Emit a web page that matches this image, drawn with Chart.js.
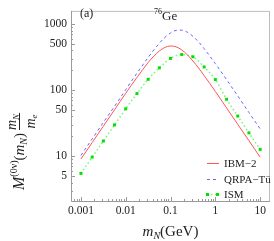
<!DOCTYPE html>
<html>
<head>
<meta charset="utf-8">
<script src="https://cdn.jsdelivr.net/npm/chart.js@4.4.0/dist/chart.umd.min.js"></script>
<style>
html, body { margin: 0; padding: 0; background: #fff; }
#c { display: block; }
</style>
</head>
<body>
<canvas id="c" width="274" height="241"></canvas>
<script>
// 곡선 데이터
var ibmMass = [0.001, 0.00178, 0.00316, 0.00562, 0.01, 0.0178, 0.0316, 0.0422, 0.0562, 0.075, 0.1, 0.133, 0.178, 0.237, 0.316, 0.422, 0.562, 1, 1.78, 3.16, 5.62, 10];
var ibmValue = [9.1, 16.1, 28.5, 50.5, 90, 156, 262, 328, 393, 445, 468, 454, 407, 344, 277, 217, 167, 96, 54, 30.5, 17.2, 9.7];

var qrpaMass = [0.001, 0.00178, 0.00316, 0.00562, 0.01, 0.0178, 0.0316, 0.0422, 0.0562, 0.075, 0.1, 0.133, 0.178, 0.237, 0.316, 0.422, 0.562, 1, 1.78, 3.16, 5.62, 10];
var qrpaValue = [10.3, 18.3, 32.5, 57, 102, 181, 313, 406, 514, 632, 737, 805, 813, 756, 655, 539, 427, 253, 145, 82, 46, 26];

var ismMass = [0.001, 0.00178, 0.00316, 0.00562, 0.01, 0.0178, 0.0316, 0.0562, 0.1, 0.178, 0.316, 0.562, 1, 1.78, 3.16, 5.62, 10];
var ismValue = [5.5, 9.7, 17.0, 29.8, 52.4, 89, 146, 218, 303, 347, 321, 225, 145, 73, 40.6, 22.6, 12.7];

var xTicks = [0.001, 0.01, 0.1, 1, 10];
var yTicks = [5, 10, 50, 100, 500, 1000];

var serif = '"Liberation Serif", "DejaVu Serif", serif';
Chart.defaults.font.family = serif;

function toPoints(xs, ys) {
	var out = [];
	for (var i = 0; i < xs.length; i++) {
		out.push({ x : xs[i], y : ys[i] });
	}
	return out;
}

// 축 눈금, 테두리, 라벨, 범례 그리기
var decorPlugin = {
	id : 'decor',
	afterDraw : function(chart) {
		var ctx = chart.ctx;
		var a = chart.chartArea;
		var xs = chart.scales.x, ys = chart.scales.y;
		ctx.save();

		// 테두리
		ctx.strokeStyle = '#bdbdbd';
		ctx.lineWidth = 1;
		ctx.beginPath();
		ctx.moveTo(a.left, a.top + 0.5);
		ctx.lineTo(a.right - 0.5, a.top + 0.5);
		ctx.lineTo(a.right - 0.5, a.bottom);
		ctx.stroke();

		ctx.strokeStyle = '#9a9a9a';
		ctx.beginPath();
		ctx.moveTo(a.left + 0.5, a.top);
		ctx.lineTo(a.left + 0.5, a.bottom + 0.5);
		ctx.lineTo(a.right, a.bottom + 0.5);
		ctx.stroke();

		// 눈금
		ctx.beginPath();
		for (var e = -4; e <= 1; e++) {
			for (var k = 1; k <= 9; k++) {
				var v = k * Math.pow(10, e);
				if (v < xs.min || v > xs.max) continue;
				var px = Math.round(xs.getPixelForValue(v)) + 0.5;
				var len = (k === 1) ? 4 : 2;
				ctx.moveTo(px, a.bottom);
				ctx.lineTo(px, a.bottom - len);
			}
		}
		for (var e2 = 0; e2 <= 3; e2++) {
			for (var k2 = 1; k2 <= 9; k2++) {
				var v2 = k2 * Math.pow(10, e2);
				if (v2 < ys.min || v2 > ys.max) continue;
				var py = Math.round(ys.getPixelForValue(v2)) + 0.5;
				var len2 = (k2 === 1 || k2 === 5) ? 4 : 2;
				ctx.moveTo(a.left, py);
				ctx.lineTo(a.left + len2, py);
			}
		}
		ctx.stroke();

		ctx.fillStyle = '#222';
		ctx.textBaseline = 'alphabetic';

		// (a)
		ctx.font = '12px ' + serif;
		ctx.textAlign = 'left';
		ctx.fillText('(a)', 80, 17);

		// 76Ge
		ctx.font = '8px ' + serif;
		ctx.fillText('76', 154, 14);
		ctx.font = '13px ' + serif;
		ctx.fillText('Ge', 162, 20);

		// x축 라벨
		var cx = (a.left + a.right) / 2;
		ctx.font = 'italic 15px ' + serif;
		var wm = ctx.measureText('m').width;
		ctx.font = 'italic 10px ' + serif;
		var wn = ctx.measureText('N').width;
		ctx.font = '15px ' + serif;
		var wg = ctx.measureText('(GeV)').width;
		var x0 = cx - (wm + wn + wg) / 2;
		var by = 236;
		ctx.font = 'italic 15px ' + serif;
		ctx.fillText('m', x0, by);
		ctx.font = 'italic 10px ' + serif;
		ctx.fillText('N', x0 + wm, by + 3);
		ctx.font = '15px ' + serif;
		ctx.fillText('(GeV)', x0 + wm + wn, by);

		// y축 라벨 (회전)
		ctx.save();
		ctx.translate(24, 122);
		ctx.rotate(-Math.PI / 2);
		var parts = [
			[ 'italic 16px ', 'M', 0 ],
			[ '10px ', '(0\u03bd)', -7 ],
			[ '15px ', '(', 0 ],
			[ 'italic 15px ', 'm', 0 ],
			[ 'italic 10px ', 'N', 3 ],
			[ '15px ', ')', 0 ]
		];
		var tx = -68;
		for (var i = 0; i < parts.length; i++) {
			ctx.font = parts[i][0] + serif;
			ctx.fillText(parts[i][1], tx, parts[i][2]);
			tx += ctx.measureText(parts[i][1]).width;
		}
		tx += 3;
		// 분수
		ctx.font = 'italic 14px ' + serif;
		var fm = ctx.measureText('m').width;
		ctx.font = 'italic 9px ' + serif;
		var fn = ctx.measureText('N').width;
		var fe = ctx.measureText('e').width;
		var fw = fm + fn + 1;
		ctx.font = 'italic 14px ' + serif;
		ctx.fillText('m', tx, -8);
		ctx.fillText('m', tx + (fw - fm - fe) / 2, 11);
		ctx.font = 'italic 9px ' + serif;
		ctx.fillText('N', tx + fm, -5);
		ctx.fillText('e', tx + (fw - fm - fe) / 2 + fm, 13);
		ctx.fillRect(tx, -5, fw, 1);
		ctx.restore();

		// 범례
		var ds = chart.data.datasets;
		var rows = [ 163, 179, 194 ];
		ctx.font = '11px ' + serif;
		for (var j = 0; j < ds.length; j++) {
			var ly = rows[j] + 0.5;
			ctx.strokeStyle = ds[j].borderColor;
			ctx.lineWidth = ds[j].borderWidth;
			ctx.setLineDash(ds[j].borderDash || []);
			ctx.beginPath();
			ctx.moveTo(207, ly);
			ctx.lineTo(219, ly);
			ctx.stroke();
			ctx.setLineDash([]);
			if (ds[j].pointRadius > 0) {
				ctx.fillStyle = ds[j].pointBackgroundColor;
				ctx.fillRect(206, ly - 1.5, 3, 3);
				ctx.fillRect(216, ly - 1.5, 3, 3);
			}
			ctx.fillStyle = '#222';
			ctx.fillText(ds[j].label, 224, rows[j] + 4);
		}
		ctx.restore();
	}
};

var chart = new Chart(document.getElementById('c'), {
	type : 'line',
	data : {
		datasets : [ {
			label : 'IBM\u22122',
			data : toPoints(ibmMass, ibmValue),
			borderColor : 'rgb(255, 85, 85)',
			borderWidth : 1,
			pointRadius : 0,
			cubicInterpolationMode : 'monotone'
		}, {
			label : 'QRPA\u2212T\u00fc',
			data : toPoints(qrpaMass, qrpaValue),
			borderColor : 'rgb(100, 100, 255)',
			borderWidth : 1,
			borderDash : [ 3, 3 ],
			pointRadius : 0,
			cubicInterpolationMode : 'monotone'
		}, {
			label : 'ISM',
			data : toPoints(ismMass, ismValue),
			borderColor : 'rgb(120, 245, 120)',
			borderWidth : 1.5,
			borderDash : [ 1.5, 2.5 ],
			pointStyle : 'rect',
			pointRadius : 2.1,
			pointBackgroundColor : 'rgb(0, 225, 0)',
			pointBorderWidth : 0,
			cubicInterpolationMode : 'monotone'
		} ]
	},
	options : {
		responsive : false,
		animation : false,
		devicePixelRatio : 1,
		layout : {
			padding : { left : 0, top : 1, right : 1, bottom : 0 }
		},
		plugins : {
			legend : { display : false },
			tooltip : { enabled : false }
		},
		scales : {
			x : {
				type : 'logarithmic',
				min : 0.000636,
				max : 16.6,
				afterBuildTicks : function(scale) {
					scale.ticks = xTicks.map(function(v) { return { value : v }; });
				},
				afterFit : function(scale) { scale.height = 40; },
				grid : { display : false, drawTicks : false },
				border : { display : false },
				ticks : {
					autoSkip : false,
					maxRotation : 0,
					padding : 3,
					color : '#222',
					font : { family : serif, size : 11.5 },
					callback : function(v) { return String(v); }
				}
			},
			y : {
				type : 'logarithmic',
				min : 2.1,
				max : 1590,
				afterBuildTicks : function(scale) {
					scale.ticks = yTicks.map(function(v) { return { value : v }; });
				},
				afterFit : function(scale) { scale.width = 71; },
				grid : { display : false, drawTicks : false },
				border : { display : false },
				ticks : {
					autoSkip : false,
					padding : 4,
					color : '#222',
					font : { family : serif, size : 11.5 },
					callback : function(v) { return String(v); }
				}
			}
		}
	},
	plugins : [ decorPlugin ]
});
</script>
</body>
</html>
